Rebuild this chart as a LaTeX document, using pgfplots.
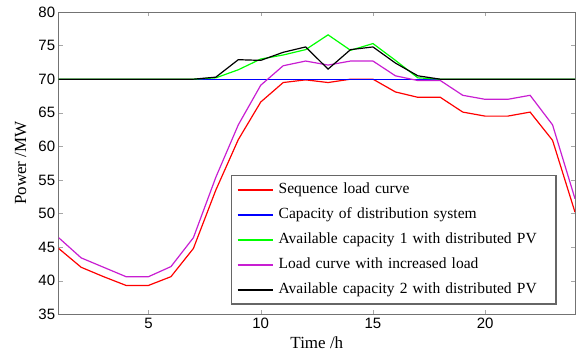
\documentclass[border=0pt]{standalone}
\usepackage{fontspec}
\setmainfont{Liberation Serif}
\setsansfont{Liberation Sans}
\usepackage{pgfplots}
\pgfplotsset{compat=1.18}
\definecolor{cred}{rgb}{1,0,0}
\definecolor{cblue}{rgb}{0,0,1}
\definecolor{cgreen}{rgb}{0,1,0}
\definecolor{cpurple}{RGB}{200,30,210}
\begin{document}
\begin{tikzpicture}
\begin{axis}[
  at={(0pt,0pt)}, anchor=south west,
  scale only axis, width=516.3pt, height=302.3pt,
  xmin=1, xmax=24, ymin=35, ymax=80,
  xtick={5,10,15,20}, ytick={35,40,...,80},
  tick align=inside, major tick length=4pt,
  axis line style={black!55, line width=0.8pt},
  tick style={black!35},
  /pgf/number format/assume math mode=true,
  ticklabel style={font=\sffamily\fontsize{15}{15}\selectfont},
  xlabel={Time /h}, ylabel={Power /MW},
  label style={font=\fontsize{17}{17}\selectfont},
  xlabel style={at={(axis description cs:0.5,-0.093)}, anchor=center},
  ylabel style={at={(axis description cs:-0.0736,0.5)}, anchor=center},
  legend cell align=left,
  legend image code/.code={\draw[#1, line width=2pt] (0pt,0.3pt) -- (35pt,0.3pt);},
  legend style={at={(rel axis cs:0.963,0.034)}, anchor=south east,
    name=leg, draw=none, fill=white,
    font=\fontsize{15.5}{18}\selectfont,
    inner xsep=5pt, inner ysep=5pt, row sep=7pt, column sep=3pt,
    nodes={inner sep=2pt, text height=11pt, text depth=3pt},
    /tikz/column 2/.style={text width=270pt}},
]
\addplot[cred, line width=1.2pt] coordinates {
(1,44.8)(2,42.0)(3,40.6)(4,39.3)(5,39.3)(6,40.6)(7,44.8)(8,53.5)(9,61.0)(10,66.6)(11,69.5)(12,69.9)(13,69.5)(14,70.0)(15,70.0)(16,68.1)(17,67.3)(18,67.3)(19,65.1)(20,64.5)(21,64.5)(22,65.1)(23,60.9)(24,50.2)};
\addlegendentry{Sequence load curve}
\addplot[cblue, line width=1.3pt] coordinates {
(1,70)(2,70)(3,70)(4,70)(5,70)(6,70)(7,70)(8,70)(9,70)(10,70)(11,70)(12,70)(13,70)(14,70)(15,70)(16,70)(17,70)(18,70)(19,70)(20,70)(21,70)(22,70)(23,70)(24,70)};
\addlegendentry{Capacity of distribution system}
\addplot[cgreen, line width=1.2pt] coordinates {
(1,70)(2,70)(3,70)(4,70)(5,70)(6,70)(7,70)(8,70.2)(9,71.4)(10,73.0)(11,73.6)(12,74.4)(13,76.6)(14,74.3)(15,75.3)(16,72.8)(17,70.2)(18,70)(19,70)(20,70)(21,70)(22,70)(23,70)(24,70)};
\addlegendentry{Available capacity 1 with distributed PV}
\addplot[cpurple, line width=1.2pt] coordinates {
(1,46.4)(2,43.4)(3,42.0)(4,40.6)(5,40.6)(6,42.1)(7,46.4)(8,55.4)(9,63.2)(10,69.1)(11,72.0)(12,72.7)(13,72.1)(14,72.7)(15,72.7)(16,70.5)(17,69.8)(18,69.8)(19,67.6)(20,67.0)(21,67.0)(22,67.6)(23,63.2)(24,52.2)};
\addlegendentry{Load curve with increased load}
\addplot[black, line width=1.2pt] coordinates {
(1,70)(2,70)(3,70)(4,70)(5,70)(6,70)(7,70)(8,70.3)(9,72.9)(10,72.8)(11,74.0)(12,74.8)(13,71.5)(14,74.4)(15,74.8)(16,72.4)(17,70.5)(18,70)(19,70)(20,70)(21,70)(22,70)(23,70)(24,70)};
\addlegendentry{Available capacity 2 with distributed PV}
\end{axis}
\draw[black!60, line width=1.2pt] (leg.south west) rectangle (leg.north east);
\pgfresetboundingbox
\path (-58.7pt,-41.7pt) rectangle (518.3pt,314.3pt);
\end{tikzpicture}
\end{document}
